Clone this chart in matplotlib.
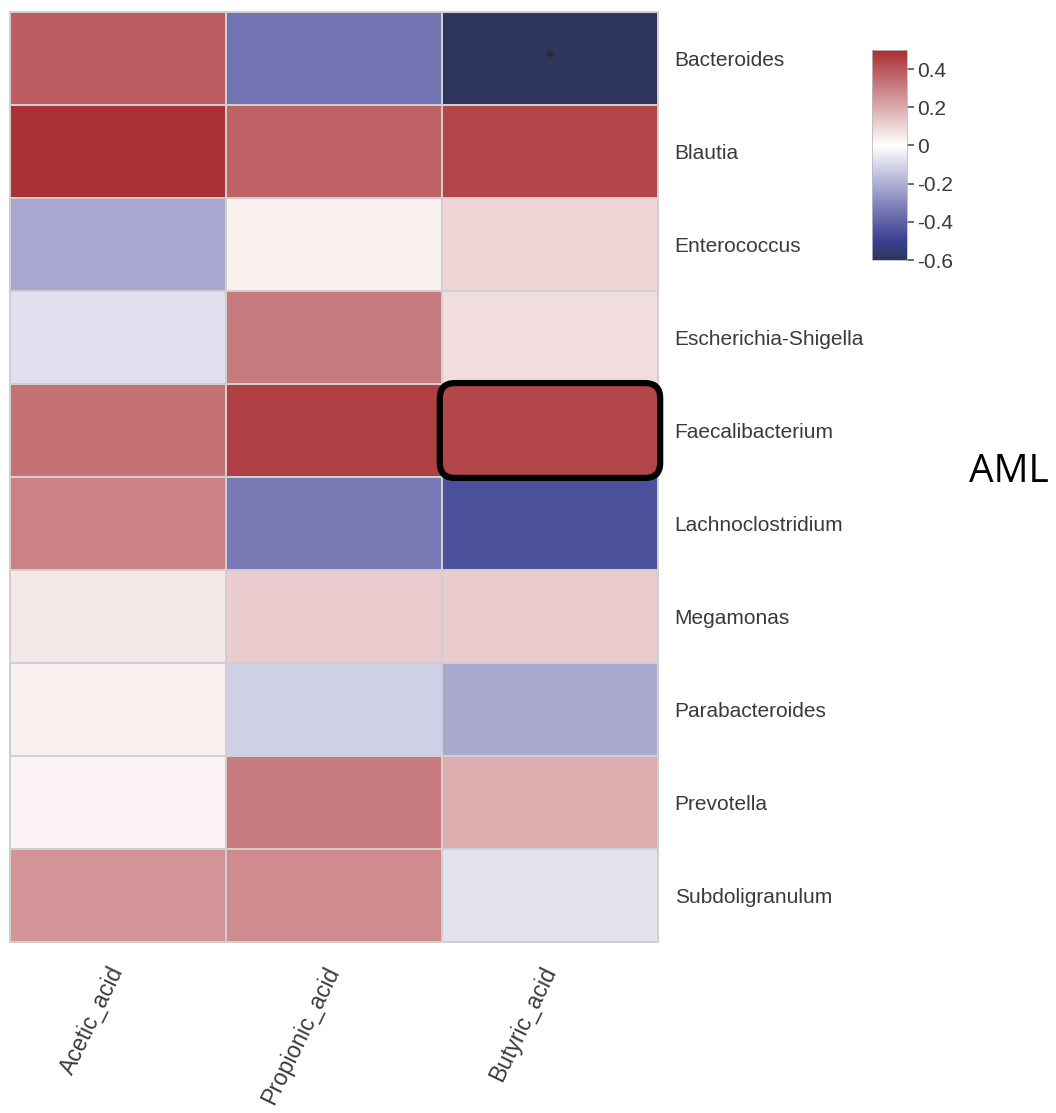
import numpy as np
import matplotlib
matplotlib.use("Agg")
import matplotlib.pyplot as plt
from matplotlib.colors import LinearSegmentedColormap, Normalize
from matplotlib.patches import FancyBboxPatch

genera = ["Bacteroides", "Blautia", "Enterococcus", "Escherichia-Shigella",
          "Faecalibacterium", "Lachnoclostridium", "Megamonas",
          "Parabacteroides", "Prevotella", "Subdoligranulum"]
acids = ["Acetic_acid", "Propionic_acid", "Butyric_acid"]

acetic = [0.386, 0.49, -0.218, -0.078, 0.336, 0.298, 0.057, 0.036, 0.031, 0.255]
propionic = [-0.354, 0.374, 0.036, 0.314, 0.455, -0.334, 0.121, -0.12, 0.312, 0.274]
butyric = [-0.6, 0.436, 0.098, 0.081, 0.436, -0.452, 0.121, -0.21, 0.195, -0.068]

stars = [("Bacteroides", "Butyric_acid", "*")]
highlight = ("Faecalibacterium", "Butyric_acid")

vmin, vmax = -0.6, 0.5
cb_ticks = [-0.6, -0.4, -0.2, 0, 0.2, 0.4]
cb_labels = ["-0.6", "-0.4", "-0.2", "0", "0.2", "0.4"]

def frac(v):
    return (v - vmin) / (vmax - vmin)

cmap = LinearSegmentedColormap.from_list("bwr_custom", [
    (frac(-0.6), (46/255, 54/255, 94/255)),
    (frac(-0.5), (58/255, 64/255, 145/255)),
    (frac(-0.3), (135/255, 135/255, 190/255)),
    (frac(0.0), (1.0, 1.0, 1.0)),
    (frac(0.5), (168/255, 45/255, 50/255)),
])
norm = Normalize(vmin=vmin, vmax=vmax)

data = np.column_stack([acetic, propionic, butyric])

W, H = 1056, 1113
fig = plt.figure(figsize=(W / 100, H / 100), dpi=100)
fig.patch.set_facecolor("white")

ax = fig.add_axes([10 / W, 1 - 942 / H, 648 / W, 930 / H])
mesh = ax.pcolormesh(np.arange(len(acids) + 1), np.arange(len(genera) + 1), data,
                     cmap=cmap, norm=norm, edgecolors="#CFCFCF", linewidth=1.2)
ax.set_xlim(0, len(acids))
ax.set_ylim(len(genera), 0)
for s in ax.spines.values():
    s.set_color("#CFCFCF")
    s.set_linewidth(1.4)

ax.yaxis.tick_right()
ax.set_yticks(np.arange(len(genera)) + 0.5)
ax.set_yticklabels(genera, fontsize=15, color="#3A3A3A", family="Liberation Sans")
ax.tick_params(axis="y", length=0, pad=12)
ax.set_xticks([])

for j, name in enumerate(acids):
    ax.text(j + 0.5, len(genera) + 0.28, name, rotation=64, rotation_mode="anchor",
            ha="right", va="center", fontsize=16.5, color="#3A3A3A",
            family="Liberation Sans", clip_on=False)

for g, a, s in stars:
    ax.text(acids.index(a) + 0.5, genera.index(g) + 0.5, s, ha="center", va="center",
            fontsize=12, color="#222222")

hx, hy = acids.index(highlight[1]), genera.index(highlight[0])
box = FancyBboxPatch((hx - 0.01, hy - 0.01), 1.02, 1.02,
                     boxstyle="round,pad=0,rounding_size=0.07",
                     mutation_aspect=216 / 93, fill=False, edgecolor="black",
                     linewidth=4.5, clip_on=False, zorder=5)
ax.add_patch(box)

cax = fig.add_axes([872 / W, 1 - 260 / H, 35 / W, 210 / H])
cb = fig.colorbar(mesh, cax=cax, ticks=cb_ticks)
cb.ax.set_yticklabels(cb_labels, fontsize=15, color="#3A3A3A", family="Liberation Sans")
cb.ax.tick_params(axis="y", length=5, width=1.2, color="#555555", pad=2)
cb.outline.set_linewidth(0.6)
cb.outline.set_edgecolor("#BBBBBB")

fig.text(1009 / W, 1 - 472 / H, "AML", fontsize=28, family="Open Sans",
         ha="center", va="center", color="black")

fig.savefig("out.png", dpi=100, facecolor="white")
